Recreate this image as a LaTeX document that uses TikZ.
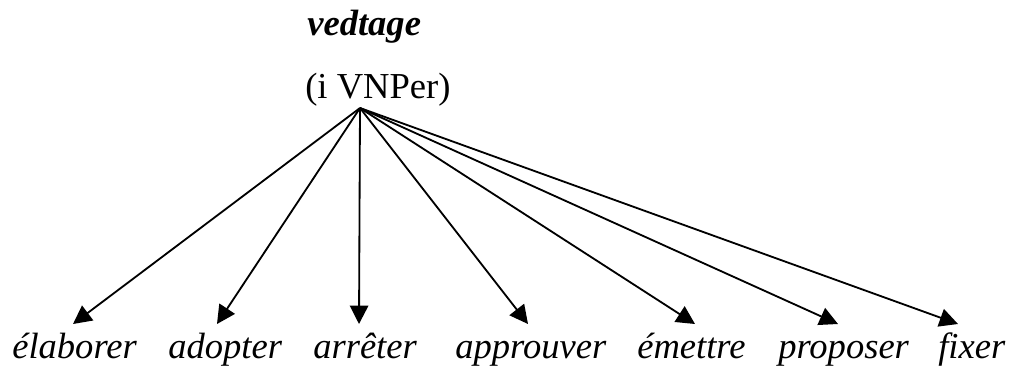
\documentclass[tikz,border=0pt]{standalone}
\usepackage{fontspec}
\setmainfont{Liberation Serif}
\usepackage{tikz}
\usetikzlibrary{arrows.meta,
                positioning}
\tikzstyle{arrow} = [line width=1.3pt,-{Triangle[length=0.46cm,width=0.46cm]}]
\tikzstyle{word} = [inner sep=0pt, anchor=base west, font=\fontsize{26}{31}\selectfont\itshape]

\begin{document}
\begin{tikzpicture}[x=0.025cm,y=-0.025cm]
    \useasboundingbox (0,0) rectangle (1017,370);

    \node[word, font=\fontsize{26}{31}\selectfont\bfseries\itshape] (head) at (307,35) {vedtage};
    \node[word, font=\fontsize{26}{31}\selectfont] (cat) at (305,98) {(i VNPer)};
    \coordinate (src) at (360,108);

    \foreach \word/\lx/\tx [count=\n] in {élaborer/12/73, adopter/168/217, arrêter/313/359,
        approuver/455/528, émettre/637/695, proposer/778/838, fixer/938/958}{% one target per word
      \node[word] (w\n) at (\lx,358) {\word};
      \coordinate (tip\n) at (\tx,324);
      \draw[arrow] (src) -- (tip\n);
    }
\end{tikzpicture}
\end{document}
